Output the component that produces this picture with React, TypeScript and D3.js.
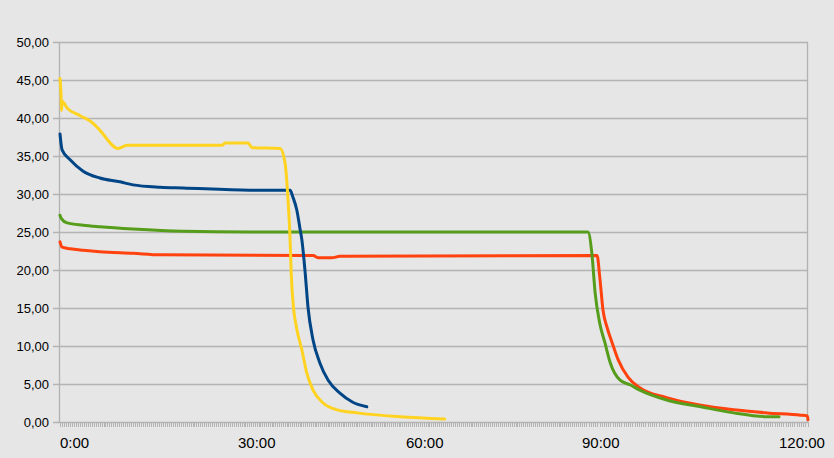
import React, { useEffect, useRef } from "react";
import * as d3 from "d3";

// time in minutes, value
const yellowSeries: [number, number][] = [
  [0, 45.2], [0.2, 42.4], [0.25, 41.0], [0.35, 42.2], [1.2, 41.3], [3.4, 40.3],
  [5.6, 39.3], [6.7, 38.4], [9.8, 36.0], [11.3, 36.4], [27.3, 36.4], [27.8, 36.7],
  [31.8, 36.7], [32.5, 36.1], [37.5, 36.0], [38.4, 34.1], [38.9, 29.6], [39.3, 24.0],
  [39.5, 19.6], [39.9, 15.1], [40.4, 12.6], [41.4, 9.5], [42.3, 6.4], [43.4, 4.2],
  [45.2, 2.5], [47.7, 1.6], [51.3, 1.2], [58.9, 0.7], [66.6, 0.4],
];

const blueSeries: [number, number][] = [
  [0, 37.9], [0.35, 35.8], [1.7, 34.5], [3.9, 33.0], [6.7, 32.1], [10.1, 31.6],
  [12.3, 31.2], [16.9, 30.9], [20.7, 30.8], [32.1, 30.5], [39.3, 30.5], [39.8, 29.6],
  [40.5, 27.9], [41.1, 25.3], [41.4, 24.0], [42.0, 19.6], [42.5, 15.1], [43.4, 10.8],
  [44.6, 7.8], [46.1, 5.5], [48.2, 3.8], [50.5, 2.6], [53.0, 2.0],
];

const greenSeries: [number, number][] = [
  [0, 27.2], [0.2, 26.8], [1.2, 26.2], [3.9, 25.9], [6.7, 25.7], [12.3, 25.4],
  [20.7, 25.1], [32.1, 25.0], [90.9, 25.0], [91.5, 22.2], [92.0, 17.0], [92.7, 13.0],
  [93.5, 10.4], [94.3, 7.8], [95.8, 5.5], [97.3, 4.9], [98.8, 4.2], [102.9, 2.9],
  [108.1, 2.0], [113.1, 1.2], [118.2, 0.7], [120.0, 0.7],
];

const redSeries: [number, number][] = [
  [0, 23.7], [0.35, 23.0], [1.7, 22.8], [3.9, 22.6], [6.7, 22.4], [12.3, 22.2],
  [16.9, 22.0], [42.3, 21.9], [43.4, 21.9], [44.4, 21.6], [46.7, 21.6], [48.2, 21.8],
  [92.3, 21.9], [92.7, 19.1], [93.2, 14.7], [93.8, 12.5], [94.6, 10.4], [95.5, 8.2],
  [97.0, 5.9], [98.8, 4.5], [102.9, 3.2], [108.1, 2.2], [113.1, 1.6], [118.2, 1.2],
  [123.3, 0.9], [124.3, 0.8], [124.4, 0.3],
];

const seriesColors = ["#ffd320", "#004586", "#579d1c", "#ff420e"];
const yTicks = [0, 5, 10, 15, 20, 25, 30, 35, 40, 45, 50];
const xTickMinutes = [0, 30, 60, 90, 120];

const App = () => {
  const ref = useRef<SVGSVGElement>(null);

  useEffect(() => {
    const width = 834;
    const height = 458;
    const svg = d3.select(ref.current);
    svg.selectAll("*").remove();
    svg.attr("width", width).attr("height", height);

    // category axis: samples are not evenly spaced in time
    const x = d3
      .scaleLinear()
      .domain([0, 30, 60, 90, 120, 124.4])
      .range([60, 238, 406, 582, 779, 808]);
    const y = d3.scaleLinear().domain([0, 50]).range([422, 42]);

    svg.append("rect").attr("width", width).attr("height", height).attr("fill", "#e6e6e6");

    const grid = "#b3b3b3";
    // horizontal gridlines
    svg
      .append("g")
      .selectAll("line")
      .data(yTicks)
      .join("line")
      .attr("x1", 53)
      .attr("x2", x(124.4))
      .attr("y1", (d) => Math.round(y(d)) + 0.5)
      .attr("y2", (d) => Math.round(y(d)) + 0.5)
      .attr("stroke", grid)
      .attr("stroke-width", 1.3);

    // axis lines
    svg
      .append("line")
      .attr("x1", x(0) - 0.5)
      .attr("x2", x(0) - 0.5)
      .attr("y1", y(50))
      .attr("y2", y(0) + 1)
      .attr("stroke", grid)
      .attr("stroke-width", 1.3);
    svg
      .append("line")
      .attr("x1", x(124.4) - 0.5)
      .attr("x2", x(124.4) - 0.5)
      .attr("y1", y(50))
      .attr("y2", y(0))
      .attr("stroke", grid)
      .attr("stroke-width", 1.3);

    // dense category ticks
    svg
      .append("g")
      .selectAll("line")
      .data(d3.range(0, 124.4, 1 / 3))
      .join("line")
      .attr("x1", (d) => Math.round(x(d)) + 0.5)
      .attr("x2", (d) => Math.round(x(d)) + 0.5)
      .attr("y1", y(0))
      .attr("y2", y(0) + 5)
      .attr("stroke", grid)
      .attr("stroke-width", 1);

    // y labels
    svg
      .append("g")
      .selectAll("text")
      .data(yTicks)
      .join("text")
      .attr("x", 49)
      .attr("y", (d) => y(d) + 4.5)
      .attr("text-anchor", "end")
      .attr("font-family", "'Liberation Sans', Arial, sans-serif")
      .attr("font-size", 13)
      .attr("fill", "#000")
      .text((d) => d3.format(".2f")(d).replace(".", ","));

    // x labels
    svg
      .append("g")
      .selectAll("text")
      .data(xTickMinutes)
      .join("text")
      .attr("x", (d) => x(d))
      .attr("y", 448)
      .attr("text-anchor", "start")
      .attr("font-family", "'Liberation Sans', Arial, sans-serif")
      .attr("font-size", 15)
      .attr("fill", "#000")
      .text((d) => `${d}:00`);

    const line = d3
      .line<[number, number]>()
      .x((d) => x(d[0]))
      .y((d) => y(d[1]))
      .curve(d3.curveMonotoneX);

    const all = [yellowSeries, blueSeries, greenSeries, redSeries];
    // draw order: red, green, blue, yellow on top
    [3, 2, 1, 0].forEach((i) => {
      svg
        .append("path")
        .attr("d", line(all[i]))
        .attr("fill", "none")
        .attr("stroke", seriesColors[i])
        .attr("stroke-width", 3)
        .attr("stroke-linejoin", "round")
        .attr("stroke-linecap", "round");
    });
  }, []);

  return (
    <div style={{ position: "fixed", left: 0, top: 0 }}>
      <svg ref={ref}></svg>
    </div>
  );
};

export default App;
